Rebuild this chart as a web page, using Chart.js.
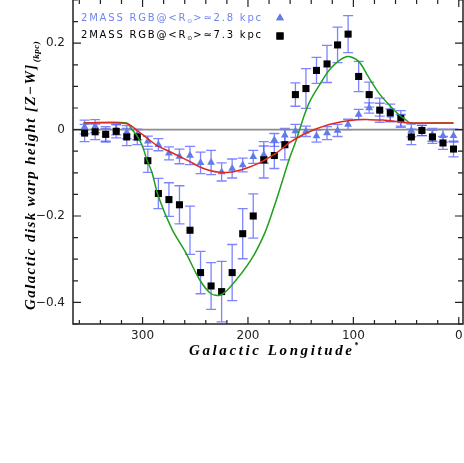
<!DOCTYPE html>
<html>
<head>
<meta charset="utf-8">
<script src="https://cdn.jsdelivr.net/npm/chart.js@4.4.1/dist/chart.umd.min.js"></script>
<style>
  html, body { margin: 0; padding: 0; background: #fff; }
  #wrap { width: 464px; height: 463px; }
</style>
</head>
<body>
<div id="wrap"><canvas id="warpChart" width="464" height="463"></canvas></div>
<script>
// galactic longitude of each bin (deg)
const longitudes = [355, 345, 335, 325, 315, 305, 295, 285, 275, 265, 255, 245, 235, 225, 215, 205, 195, 185,
                    175, 165, 155, 145, 135, 125, 115, 105, 95, 85, 75, 65, 55, 45, 35, 25, 15, 5];

// 2MASS RGB @ <R> ~ 2.8 kpc (triangles)
const rgb28Z   = [0.006, 0.008, -0.012, 0.000, -0.006, -0.012, -0.027, -0.035, -0.055, -0.062, -0.060, -0.077,
                  -0.076, -0.098, -0.090, -0.082, -0.063, -0.058, -0.024, -0.013, -0.003, -0.004, -0.015, -0.008,
                  -0.002, 0.012, 0.035, 0.050, 0.046, 0.033, 0.020, -0.002, -0.002, -0.012, -0.014, -0.014];
const rgb28Err = [0.016, 0.015, 0.015, 0.012, 0.015, 0.012, 0.012, 0.014, 0.015, 0.017, 0.021, 0.025,
                  0.028, 0.021, 0.022, 0.016, 0.015, 0.020, 0.015, 0.016, 0.015, 0.012, 0.014, 0.015,
                  0.014, 0.012, 0.012, 0.012, 0.015, 0.015, 0.015, 0.015, 0.012, 0.015, 0.015, 0.015];

// 2MASS RGB @ <R> ~ 7.3 kpc (squares)
const rgb73Z   = [-0.008, -0.005, -0.011, -0.004, -0.017, -0.017, -0.072, -0.148, -0.162, -0.174, -0.233, -0.331,
                  -0.362, -0.375, -0.331, -0.241, -0.200, -0.070, -0.060, -0.035, 0.081, 0.095, 0.137, 0.152,
                  0.196, 0.221, 0.123, 0.081, 0.045, 0.039, 0.026, -0.017, -0.002, -0.017, -0.031, -0.045];
const rgb73Err = [0.020, 0.018, 0.018, 0.015, 0.020, 0.018, 0.027, 0.035, 0.039, 0.044, 0.056, 0.049,
                  0.054, 0.070, 0.065, 0.058, 0.051, 0.042, 0.030, 0.035, 0.027, 0.046, 0.030, 0.043,
                  0.041, 0.043, 0.035, 0.029, 0.028, 0.020, 0.018, 0.018, 0.012, 0.015, 0.015, 0.018];

// model curves
const fit28L = [356, 320, 313, 304, 294, 285, 275, 265, 256, 246, 237, 227, 218, 208, 199, 189, 186, 173, 161,
                148, 135, 123, 110, 97, 85, 72, 59, 46, 5];
const fit28Z = [0.0155, 0.0155, 0.012, -0.004, -0.023, -0.039, -0.050, -0.062, -0.073, -0.086, -0.094, -0.099,
                -0.099, -0.094, -0.087, -0.077, -0.073, -0.054, -0.031, -0.012, 0.002, 0.012, 0.019, 0.023,
                0.023, 0.022, 0.019, 0.0155, 0.0155];
const fit73L = [356, 315, 310, 305, 300, 296, 291, 285, 272, 259, 246, 235, 226, 216, 197, 184, 175, 167, 161,
                154, 148, 142, 133, 121, 106, 95, 86, 76, 66, 57, 50, 46, 5];
const fit73Z = [0.0155, 0.0155, 0.000, -0.015, -0.039, -0.069, -0.100, -0.155, -0.231, -0.285, -0.347, -0.380,
                -0.383, -0.362, -0.301, -0.239, -0.177, -0.116, -0.069, -0.023, 0.023, 0.062, 0.100, 0.143,
                0.169, 0.158, 0.123, 0.085, 0.057, 0.035, 0.022, 0.0155, 0.0155];

const zeroL = [366, -4];
const zeroZ = [0, 0];

// axis ticks
const xTickValues = [300, 200, 100, 0];
const xTickLabels = ['300', '200', '100', '0'];
const xMinorTicks = [360, 340, 320, 300, 280, 260, 240, 220, 200, 180, 160, 140, 120, 100, 80, 60, 40, 20, 0];
const yTickValues = [-0.4, -0.2, 0, 0.2];
const yTickLabels = ['\u22120.4', '\u22120.2', '0', '0.2'];
const yMinorTicks = [-0.45, -0.4, -0.35, -0.3, -0.25, -0.2, -0.15, -0.1, -0.05, 0, 0.05, 0.1, 0.15, 0.2, 0.25, 0.3];

const legendLines = [
  { pre: '2MASS RGB@<R', sub: '\u2299', post: '>\u22432.8 kpc', color: 'rgb(112,134,236)' },
  { pre: '2MASS RGB@<R', sub: '\u2299', post: '>\u22437.3 kpc', color: '#000' }
];

const toPoints = (xs, ys) => xs.map((x, i) => ({ x: x, y: ys[i] }));

const errorBars = {
  id: 'errorBars',
  beforeDatasetsDraw(chart) {
    const ctx = chart.ctx;
    const xs = chart.scales.x, ys = chart.scales.y;
    const area = chart.chartArea;
    ctx.save();
    ctx.beginPath();
    ctx.rect(area.left, area.top, area.right - area.left, area.bottom - area.top);
    ctx.clip();
    ctx.strokeStyle = 'rgba(70,80,255,0.7)';
    ctx.lineWidth = 1.3;
    chart.data.datasets.forEach(ds => {
      if (!ds.errors) return;
      ds.data.forEach((p, i) => {
        const px = xs.getPixelForValue(p.x);
        const y1 = ys.getPixelForValue(p.y - ds.errors[i]);
        const y2 = ys.getPixelForValue(p.y + ds.errors[i]);
        ctx.beginPath();
        ctx.moveTo(px, y1); ctx.lineTo(px, y2);
        ctx.moveTo(px - 5, y1); ctx.lineTo(px + 5, y1);
        ctx.moveTo(px - 5, y2); ctx.lineTo(px + 5, y2);
        ctx.stroke();
      });
    });
    ctx.restore();
  }
};

const frameAndText = {
  id: 'frameAndText',
  afterDraw(chart) {
    const ctx = chart.ctx;
    const a = chart.chartArea;
    const xs = chart.scales.x, ys = chart.scales.y;
    ctx.save();
    ctx.strokeStyle = '#222';
    ctx.lineWidth = 1.5;
    // left, bottom, right sides of the frame (top edge lies off the picture)
    ctx.beginPath();
    ctx.moveTo(a.left, a.top); ctx.lineTo(a.left, a.bottom);
    ctx.lineTo(a.right, a.bottom); ctx.lineTo(a.right, a.top);
    ctx.stroke();
    // inward tick marks on all four sides
    ctx.lineWidth = 1.2;
    ctx.beginPath();
    xMinorTicks.forEach(v => {
      const px = xs.getPixelForValue(v);
      const len = xTickValues.includes(v) ? 7 : 4;
      ctx.moveTo(px, a.bottom); ctx.lineTo(px, a.bottom - len);
      ctx.moveTo(px, a.top); ctx.lineTo(px, a.top + len);
    });
    yMinorTicks.forEach(v => {
      const py = ys.getPixelForValue(v);
      const len = yTickValues.some(t => Math.abs(t - v) < 1e-6) ? 8 : 5;
      ctx.moveTo(a.left, py); ctx.lineTo(a.left + len, py);
      ctx.moveTo(a.right, py); ctx.lineTo(a.right - len, py);
    });
    ctx.stroke();

    // legend text with markers on the right
    ctx.textBaseline = 'middle';
    ctx.textAlign = 'left';
    legendLines.forEach((ln, i) => {
      const y = 18 + i * 17;
      let x = 81;
      ctx.fillStyle = ln.color;
      ctx.font = '10px "DejaVu Sans"';
      ctx.letterSpacing = '1.8px';
      ctx.fillText(ln.pre, x, y);
      x += ctx.measureText(ln.pre).width;
      ctx.font = '6px "DejaVu Sans"';
      ctx.letterSpacing = '0px';
      ctx.fillText(ln.sub, x, y + 3);
      x += ctx.measureText(ln.sub).width + 1;
      ctx.font = '10px "DejaVu Sans"';
      ctx.letterSpacing = '1.8px';
      ctx.fillText(ln.post, x, y);
      const ds = chart.data.datasets[i + 1];
      Chart.helpers.drawPoint(ctx, {
        pointStyle: ds.pointStyle, radius: ds.pointRadius, rotation: 0, borderWidth: 0
      }, 280, y + (i === 0 ? 0 : 1));
      ctx.fillStyle = ds.backgroundColor;
      ctx.fill();
    });
    ctx.letterSpacing = '0px';

    // y axis title
    ctx.fillStyle = '#000';
    ctx.save();
    ctx.translate(35, 310);
    ctx.rotate(-Math.PI / 2);
    ctx.textBaseline = 'alphabetic';
    ctx.font = 'italic bold 15px "Liberation Serif"';
    ctx.letterSpacing = '1.4px';
    const yMain = 'Galactic disk warp height [Z\u2212W]';
    ctx.fillText(yMain, 0, 0);
    const w = ctx.measureText(yMain).width;
    ctx.font = 'italic bold 9px "Liberation Serif"';
    ctx.letterSpacing = '0.5px';
    ctx.fillText('(kpc)', w + 1, 4);
    ctx.restore();

    // x axis title
    ctx.textBaseline = 'alphabetic';
    ctx.font = 'italic bold 15px "Liberation Serif"';
    ctx.letterSpacing = '2.6px';
    const xMain = 'Galactic Longitude';
    ctx.fillText(xMain, 189, 355);
    const xw = ctx.measureText(xMain).width;
    ctx.font = 'bold 8px "Liberation Serif"';
    ctx.letterSpacing = '0px';
    ctx.fillText('*', 189 + xw, 348);
    ctx.restore();
  }
};

new Chart(document.getElementById('warpChart'), {
  type: 'scatter',
  data: {
    datasets: [
      {
        label: 'zero',
        data: toPoints(zeroL, zeroZ),
        showLine: true,
        borderColor: '#8c8c8c',
        borderWidth: 1.6,
        pointRadius: 0,
        order: 5
      },
      {
        label: '2MASS RGB <R> 2.8 kpc',
        data: toPoints(longitudes, rgb28Z),
        errors: rgb28Err,
        pointStyle: 'triangle',
        pointRadius: 4.5,
        backgroundColor: 'rgb(96,124,232)',
        borderColor: 'rgb(96,124,232)',
        borderWidth: 0,
        order: 4
      },
      {
        label: '2MASS RGB <R> 7.3 kpc',
        data: toPoints(longitudes, rgb73Z),
        errors: rgb73Err,
        pointStyle: 'rect',
        pointRadius: 5,
        backgroundColor: '#000',
        borderColor: '#000',
        borderWidth: 0,
        order: 3
      },
      {
        label: 'fit 7.3',
        data: toPoints(fit73L, fit73Z),
        showLine: true,
        borderColor: 'rgb(30,160,30)',
        borderWidth: 1.5,
        pointRadius: 0,
        tension: 0.3,
        order: 2
      },
      {
        label: 'fit 2.8',
        data: toPoints(fit28L, fit28Z),
        showLine: true,
        borderColor: 'rgb(222,40,30)',
        borderWidth: 1.5,
        pointRadius: 0,
        tension: 0.3,
        order: 1
      }
    ]
  },
  options: {
    responsive: false,
    animation: false,
    devicePixelRatio: 1,
    layout: { autoPadding: false, padding: { top: 0, right: 1, left: 0, bottom: 0 } },
    plugins: { legend: { display: false }, tooltip: { enabled: false } },
    scales: {
      x: {
        type: 'linear',
        reverse: true,
        min: -4,
        max: 366,
        grid: { display: false, drawTicks: false },
        border: { display: false },
        afterBuildTicks: axis => { axis.ticks = xTickValues.map(v => ({ value: v })); },
        afterFit: axis => {
          axis.height = 139;
          axis.paddingLeft = 0; axis.paddingRight = 0;
        },
        ticks: {
          padding: 5,
          color: '#222',
          font: { family: 'DejaVu Sans', size: 12 },
          callback: (v, i) => xTickLabels[i]
        }
      },
      y: {
        type: 'linear',
        min: -0.45,
        max: 0.30,
        grid: { display: false, drawTicks: false },
        border: { display: false },
        afterBuildTicks: axis => { axis.ticks = yTickValues.map(v => ({ value: v })); },
        afterFit: axis => {
          axis.width = 73;
          axis.paddingTop = 0; axis.paddingBottom = 0;
        },
        ticks: {
          padding: 8,
          color: '#222',
          font: { family: 'DejaVu Sans', size: 12 },
          callback: (v, i) => yTickLabels[i]
        }
      }
    }
  },
  plugins: [errorBars, frameAndText]
});
</script>
</body>
</html>
